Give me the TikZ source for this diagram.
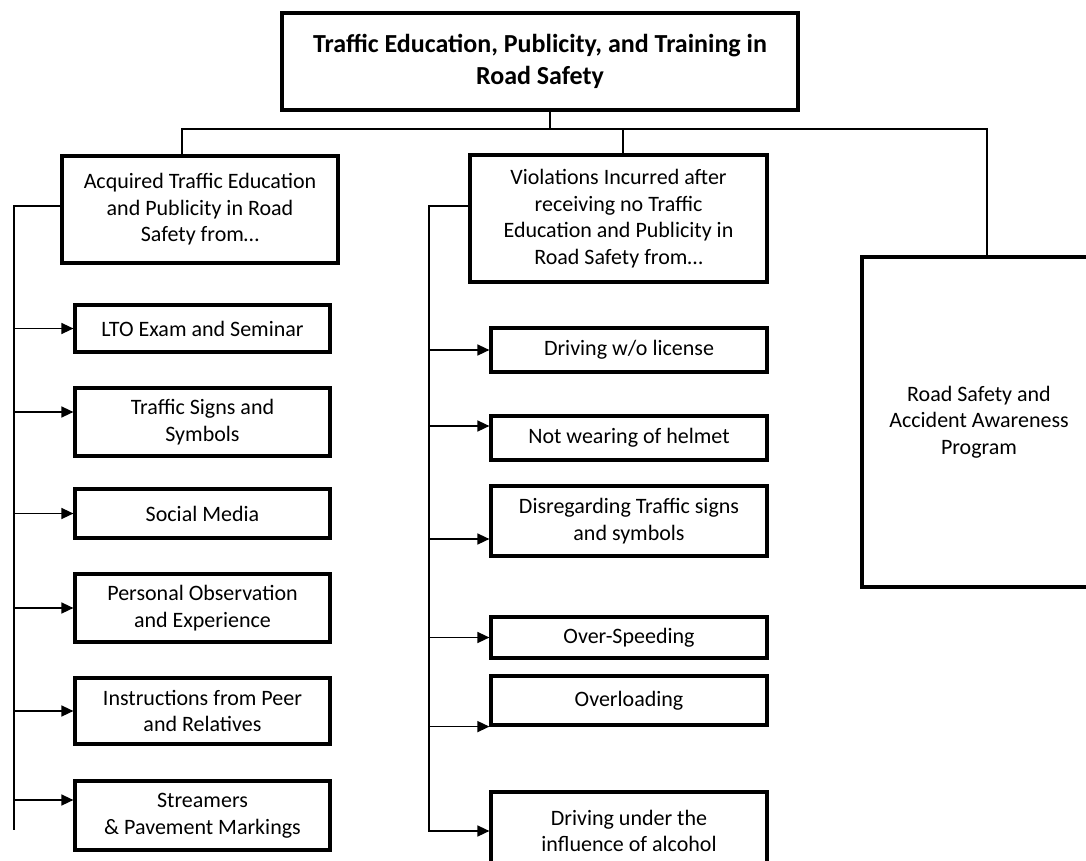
\documentclass[tikz,border=0pt]{standalone}
\usepackage{fontspec}
\setmainfont{Carlito}
\usepackage{tikz}
\usetikzlibrary{calc}
\usetikzlibrary{arrows.meta}
\tikzset{
  boxnode/.style={draw, line width=1.6pt, align=center, inner sep=0pt,
    font=\fontsize{11}{13.25}\selectfont},
  ttlnode/.style={boxnode, font=\fontsize{13}{16}\selectfont\bfseries},
  link/.style={line width=0.75pt},
  arr/.style={link, -{Triangle[length=6pt,width=5.5pt]}},
}

\begin{document}
\begin{tikzpicture}[x=0.5pt,y=-0.5pt]
  \useasboundingbox (0,0) rectangle (1086,861);
  % top box and the three branches
  \node[ttlnode, minimum width=258pt, minimum height=48.5pt] (title) at (540,61.5)
    {Traffic Education, Publicity, and Training in\\Road Safety};
  \node[boxnode, minimum width=138pt, minimum height=53.5pt] (acq) at (200,209.5)
    {Acquired Traffic Education\\and Publicity in Road\\Safety from\dots};
  \node[boxnode, minimum width=148.5pt, minimum height=63.5pt] (viol) at (618.5,218.5)
    {Violations Incurred after\\receiving no Traffic\\Education and Publicity in\\Road Safety from\dots};
  \node[boxnode, minimum width=117pt, minimum height=165pt] (prog) at (979,422)
    {Road Safety and\\Accident Awareness\\Program};
  % left column
  \node[boxnode, minimum width=127.5pt, minimum height=23.5pt] (lto) at (202.5,328.5)
    {LTO Exam and Seminar};
  \node[boxnode, minimum width=127.5pt, minimum height=34pt] (signs) at (202.5,422)
    {Traffic Signs and\\Symbols};
  \node[boxnode, minimum width=127.5pt, minimum height=24.5pt] (social) at (202.5,513.5)
    {Social Media};
  \node[boxnode, minimum width=127.5pt, minimum height=34pt] (personal) at (202.5,608)
    {Personal Observation\\and Experience};
  \node[boxnode, minimum width=127.5pt, minimum height=33pt] (instr) at (202.5,711)
    {Instructions from Peer\\and Relatives};
  \node[boxnode, minimum width=127.5pt, minimum height=34.5pt] (stream) at (202.5,815.5)
    {Streamers\\\& Pavement Markings};
  % middle column
  \node[boxnode, minimum width=138pt, minimum height=22pt] (nolic) at (629,350)
    {Driving w/o license};
  \node[boxnode, minimum width=138pt, minimum height=22pt] (helmet) at (629,438)
    {Not wearing of helmet};
  \node[boxnode, minimum width=138pt, minimum height=35pt] (disreg) at (629,521)
    {Disregarding Traffic signs\\and symbols};
  \node[boxnode, minimum width=138pt, minimum height=20.5pt] (speed) at (629,637.5)
    {Over-Speeding};
  \node[boxnode, minimum width=138pt, minimum height=24.5pt] (overl) at (629,700.5)
    {Overloading};
  \node[boxnode, minimum width=138pt, minimum height=39pt] (alcohol) at (629,831)
    {Driving under the\\influence of alcohol};
  % branches
  \coordinate (stem) at (550,129);
  \coordinate (b1) at (182,129);
  \coordinate (b2) at (623,129);
  \coordinate (b3) at (987,129);
  \draw[link] (title.south -| stem) -- (stem);
  \draw[link] (b1 |- acq.north) -- (b1) -- (b3) -- (b3 |- prog.north);
  \draw[link] (b2) -- (b2 |- viol.north);
  % left trunk
  \coordinate (ltop) at (14,206);
  \coordinate (lbot) at (14,830);
  \draw[link] (acq.west |- ltop) -- (ltop) -- (lbot);
  \draw[arr] (ltop |- lto.west) -- (lto.west);
  \draw[arr] ($(ltop |- signs.west)+(0,-10)$) -- ($(signs.west)+(0,-10)$);
  \draw[arr] (ltop |- social.west) -- (social.west);
  \draw[arr] (ltop |- personal.west) -- (personal.west);
  \draw[arr] (ltop |- instr.west) -- (instr.west);
  \draw[arr] ($(ltop |- stream.west)+(0,-15.5)$) -- ($(stream.west)+(0,-15.5)$);
  % middle trunk
  \coordinate (mtop) at (429,206);
  \draw[arr] (viol.west |- mtop) -- (mtop) |- (alcohol.west);
  \draw[arr] (mtop |- nolic.west) -- (nolic.west);
  \draw[arr] ($(mtop |- helmet.west)+(0,-12)$) -- ($(helmet.west)+(0,-12)$);
  \draw[arr] ($(mtop |- disreg.west)+(0,18)$) -- ($(disreg.west)+(0,18)$);
  \draw[arr] (mtop |- speed.west) -- (speed.west);
  \draw[arr] (mtop |- overl.south west) -- (overl.south west);
\end{tikzpicture}
\end{document}
